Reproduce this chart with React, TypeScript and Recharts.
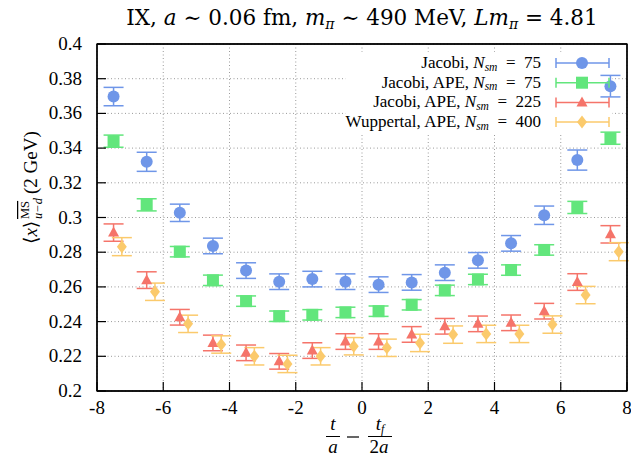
import {
  CartesianGrid,
  ErrorBar,
  ReferenceArea,
  Scatter,
  ScatterChart,
  XAxis,
  YAxis,
} from "recharts";

// time slices (centres) and the shifted slices used for the Wuppertal set
const tCenters = [-7.5, -6.5, -5.5, -4.5, -3.5, -2.5, -1.5, -0.5, 0.5, 1.5, 2.5, 3.5, 4.5, 5.5, 6.5, 7.5];
const tShifted = [-7.25, -6.25, -5.25, -4.25, -3.25, -2.25, -1.25, -0.25, 0.75, 1.75, 2.75, 3.75, 4.75, 5.75, 6.75, 7.75];

const jacobi75 = [0.3697, 0.3321, 0.3027, 0.2836, 0.2694, 0.263, 0.2645, 0.263, 0.2613, 0.2626, 0.2682, 0.2753, 0.2851, 0.3013, 0.3331, 0.3757];
const jacobi75Err = [0.0053, 0.0055, 0.005, 0.0045, 0.0045, 0.0045, 0.0045, 0.0045, 0.0045, 0.0045, 0.0045, 0.0045, 0.0045, 0.0053, 0.0058, 0.0062];

const jacobiApe75 = [0.344, 0.3073, 0.2803, 0.2638, 0.2518, 0.2431, 0.2439, 0.2453, 0.246, 0.2497, 0.258, 0.2643, 0.2697, 0.2813, 0.3058, 0.3457];
const jacobiApe75Err = [0.0035, 0.0035, 0.003, 0.003, 0.003, 0.003, 0.003, 0.003, 0.003, 0.003, 0.003, 0.003, 0.003, 0.003, 0.0035, 0.0035];

const jacobiApe225 = [0.2913, 0.2639, 0.2425, 0.2277, 0.222, 0.2171, 0.2233, 0.2285, 0.2285, 0.2326, 0.2373, 0.2387, 0.2393, 0.246, 0.2628, 0.2903];
const jacobiApe225Err = [0.005, 0.0048, 0.0045, 0.0045, 0.0045, 0.0045, 0.0045, 0.0045, 0.0045, 0.0045, 0.0045, 0.0045, 0.0045, 0.0045, 0.0048, 0.005];

const wuppertalApe400 = [0.2832, 0.2572, 0.2387, 0.2268, 0.22, 0.2156, 0.22, 0.2258, 0.2249, 0.2277, 0.2325, 0.2329, 0.2329, 0.2383, 0.2553, 0.2803];
const wuppertalApe400Err = [0.0052, 0.005, 0.005, 0.005, 0.005, 0.005, 0.005, 0.005, 0.005, 0.005, 0.005, 0.005, 0.005, 0.005, 0.005, 0.0052];

const xTicks = [-8, -6, -4, -2, 0, 2, 4, 6, 8];
const yTicks = [0.2, 0.22, 0.24, 0.26, 0.28, 0.3, 0.32, 0.34, 0.36, 0.38, 0.4];

const legendPrefix = ["Jacobi, ", "Jacobi, APE, ", "Jacobi, APE, ", "Wuppertal, APE, "];
const legendNsm = ["75", "75", "225", "400"];

const FONT = "'Liberation Serif', 'DejaVu Serif', serif";

const toRows = (ts: number[], vals: number[], errs: number[]) =>
  ts.map((t, i) => ({ t, v: vals[i], err: errs[i] }));

type Kind = "circle" | "square" | "triangle" | "diamond";

const series: { key: string; color: string; kind: Kind; data: { t: number; v: number; err: number }[] }[] = [
  { key: "j75", color: "#6f96e8", kind: "circle", data: toRows(tCenters, jacobi75, jacobi75Err) },
  { key: "ja75", color: "#62e67c", kind: "square", data: toRows(tCenters, jacobiApe75, jacobiApe75Err) },
  { key: "ja225", color: "#f5746a", kind: "triangle", data: toRows(tCenters, jacobiApe225, jacobiApe225Err) },
  { key: "wa400", color: "#fbca6c", kind: "diamond", data: toRows(tShifted, wuppertalApe400, wuppertalApe400Err) },
];

function Marker({ cx, cy, kind, color }: { cx: number; cy: number; kind: Kind; color: string }) {
  if (kind === "circle") return <circle cx={cx} cy={cy} r={6} fill={color} />;
  if (kind === "square") return <rect x={cx - 6} y={cy - 6} width={12} height={12} fill={color} />;
  if (kind === "triangle")
    return <polygon points={`${cx},${cy - 6} ${cx - 5.5},${cy + 4} ${cx + 5.5},${cy + 4}`} fill={color} />;
  return <polygon points={`${cx},${cy - 6.5} ${cx + 5},${cy} ${cx},${cy + 6.5} ${cx - 5},${cy}`} fill={color} />;
}

// the frame sits on the plot edges: left 97, right 627, top 44, bottom 391
const PLOT = { left: 97, right: 627, top: 44, bottom: 391 };

const BottomTick = (p: any) => (
  <g>
    <line x1={p.x} x2={p.x} y1={PLOT.bottom} y2={PLOT.bottom - 9} stroke="#000" strokeWidth={1.2} />
    <text x={p.x} y={PLOT.bottom + 23} textAnchor="middle" fontFamily={FONT} fontSize={19} fill="#000">
      {String(p.payload.value)}
    </text>
  </g>
);
const TopTick = (p: any) => (
  <line x1={p.x} x2={p.x} y1={PLOT.top} y2={PLOT.top + 9} stroke="#000" strokeWidth={1.2} />
);
const LeftTick = (p: any) => (
  <g>
    <line x1={PLOT.left} x2={PLOT.left + 9} y1={p.y} y2={p.y} stroke="#000" strokeWidth={1.2} />
    <text x={PLOT.left - 15} y={p.y + 6} textAnchor="end" fontFamily={FONT} fontSize={19} fill="#000">
      {String(p.payload.value)}
    </text>
  </g>
);
const RightTick = (p: any) => (
  <line x1={PLOT.right} x2={PLOT.right - 9} y1={p.y} y2={p.y} stroke="#000" strokeWidth={1.2} />
);

const axisLine = { stroke: "#000", strokeWidth: 1.3 };

export default function App() {
  return (
    <div style={{ position: "absolute", left: 0, top: 0, width: 631, height: 456, background: "#fff" }}>
      <ScatterChart
        width={631}
        height={456}
        margin={{ top: PLOT.top - 1, right: 631 - PLOT.right - 1, bottom: 456 - PLOT.bottom - 1, left: PLOT.left - 1 }}
      >
        <CartesianGrid xAxisId="b" yAxisId="l" stroke="#9a9a9a" strokeDasharray="1 2.5" />
        <XAxis
          xAxisId="b"
          dataKey="t"
          type="number"
          domain={[-8, 8]}
          ticks={xTicks}
          interval={0}
          height={1}
          tickSize={0}
          tickMargin={0}
          tickLine={false}
          axisLine={axisLine}
          tick={BottomTick}
        />
        <XAxis
          xAxisId="t"
          orientation="top"
          type="number"
          domain={[-8, 8]}
          ticks={xTicks}
          interval={0}
          height={1}
          tickSize={0}
          tickMargin={0}
          tickLine={false}
          axisLine={axisLine}
          tick={TopTick}
        />
        <YAxis
          yAxisId="l"
          dataKey="v"
          type="number"
          domain={[0.2, 0.4]}
          ticks={yTicks}
          interval={0}
          width={1}
          tickSize={0}
          tickMargin={0}
          tickLine={false}
          axisLine={axisLine}
          tick={LeftTick}
        />
        <YAxis
          yAxisId="r"
          orientation="right"
          type="number"
          domain={[0.2, 0.4]}
          ticks={yTicks}
          interval={0}
          width={1}
          tickSize={0}
          tickMargin={0}
          tickLine={false}
          axisLine={axisLine}
          tick={RightTick}
        />
        {/* opaque key box */}
        <ReferenceArea xAxisId="b" yAxisId="l" x1={-0.5} x2={7.55} y1={0.348} y2={0.3955} fill="#fff" fillOpacity={1} stroke="none" />
        {series.map((s) => (
          <Scatter
            key={s.key}
            xAxisId="b"
            yAxisId="l"
            data={s.data}
            dataKey="v"
            isAnimationActive={false}
            shape={(p: any) => <Marker cx={p.cx} cy={p.cy} kind={s.kind} color={s.color} />}
          >
            <ErrorBar dataKey="err" direction="y" width={10} stroke={s.color} strokeWidth={1.5} isAnimationActive={false} />
          </Scatter>
        ))}
      </ScatterChart>

      <svg width={631} height={456} style={{ position: "absolute", left: 0, top: 0, pointerEvents: "none" }} fontFamily={FONT} fill="#000">
        {/* frame drawn on top so the grid never hides it */}
        <rect x={PLOT.left} y={PLOT.top} width={PLOT.right - PLOT.left} height={PLOT.bottom - PLOT.top} fill="none" stroke="#000" strokeWidth={1.3} />

        <text x={362} y={25} textAnchor="middle" fontSize={21.5} fontFamily="'DejaVu Serif', serif">
          IX, <tspan fontStyle="italic">a</tspan>
          {" ∼ 0.06 fm, "}
          <tspan fontStyle="italic">m</tspan>
          <tspan fontStyle="italic" fontSize={14} dy={4}>π</tspan>
          <tspan dy={-4}>{" ∼ 490 MeV, "}</tspan>
          <tspan fontStyle="italic">Lm</tspan>
          <tspan fontStyle="italic" fontSize={14} dy={4}>π</tspan>
          <tspan dy={-4}>{" = 4.81"}</tspan>
        </text>

        {series.map((s, i) => {
          const cy = 63 + i * 19.7;
          return (
            <g key={s.key}>
              <text x={541} y={cy + 5} textAnchor="end" fontSize={17}>
                {legendPrefix[i]}
                <tspan fontStyle="italic">N</tspan>
                <tspan fontStyle="italic" fontSize={11.5} dy={2.5}>sm</tspan>
                <tspan dy={-2.5}>{"\u2002=\u2002" + legendNsm[i]}</tspan>
              </text>
              <line x1={556} x2={609} y1={cy} y2={cy} stroke={s.color} strokeWidth={1.5} />
              <line x1={556} x2={556} y1={cy - 5} y2={cy + 5} stroke={s.color} strokeWidth={1.5} />
              <line x1={609} x2={609} y1={cy - 5} y2={cy + 5} stroke={s.color} strokeWidth={1.5} />
              <Marker cx={582} cy={cy} kind={s.kind} color={s.color} />
            </g>
          );
        })}

        <g transform="translate(37,194) rotate(-90)">
          <text x={-50} y={0} fontSize={19}>
            ⟨<tspan fontStyle="italic">x</tspan>⟩
          </text>
          <text x={-25} y={-8} fontSize={12.5} textDecoration="overline">MS</text>
          <text x={-25} y={5} fontSize={12.5} fontStyle="italic">u−d</text>
          <text x={0} y={0} fontSize={19}>(2 GeV)</text>
        </g>

        <text x={333} y={430} textAnchor="middle" fontSize={19} fontStyle="italic">t</text>
        <line x1={326} x2={340} y1={436.5} y2={436.5} stroke="#000" strokeWidth={1} />
        <text x={333} y={453} textAnchor="middle" fontSize={19} fontStyle="italic">a</text>
        <line x1={347} x2={359} y1={437} y2={437} stroke="#000" strokeWidth={1.2} />
        <text x={380} y={430} textAnchor="middle" fontSize={19} fontStyle="italic">
          t<tspan fontSize={12} dy={3}>f</tspan>
        </text>
        <line x1={368} x2={392} y1={436.5} y2={436.5} stroke="#000" strokeWidth={1} />
        <text x={379} y={453} textAnchor="middle" fontSize={19}>
          2<tspan fontStyle="italic">a</tspan>
        </text>
      </svg>
    </div>
  );
}
